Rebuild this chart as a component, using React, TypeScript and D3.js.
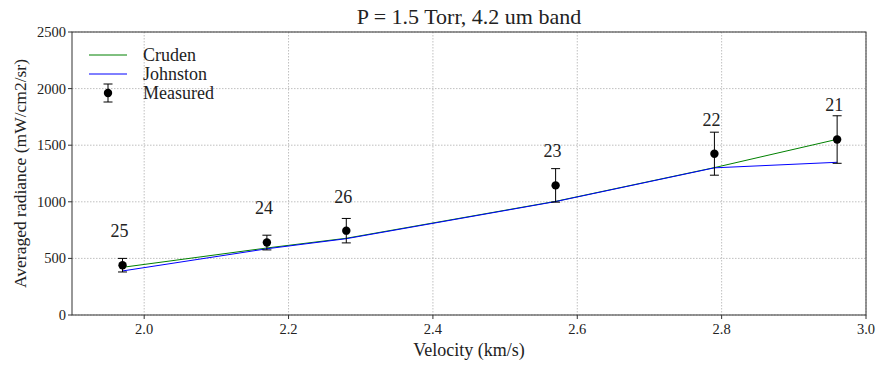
import React from "react";
import * as d3 from "d3";

// Measured shots and model predictions
const velocity = [1.97, 2.17, 2.28, 2.57, 2.79, 2.96];
const measured = [440, 640, 745, 1145, 1425, 1550];
const measuredErr = [60, 65, 108, 148, 190, 210];
const cruden = [421, 592, 678, 1004, 1302, 1552];
const johnston = [389, 585, 674, 1002, 1300, 1349];
const shotLabels = ["25", "24", "26", "23", "22", "21"];

const xTicks = [2.0, 2.2, 2.4, 2.6, 2.8, 3.0];
const yTicks = [0, 500, 1000, 1500, 2000, 2500];

const W = 880;
const H = 366;
const M = { left: 72, right: 866, top: 32, bottom: 315 };
const FONT = "Liberation Serif, Times New Roman, DejaVu Serif, serif";

export default function App() {
  const x = d3.scaleLinear().domain([1.9, 3.0]).range([M.left, M.right]);
  const y = d3.scaleLinear().domain([0, 2500]).range([M.bottom, M.top]);

  const line = d3
    .line<number>()
    .x((_, i) => x(velocity[i]))
    .y((d) => y(d));

  const cap = 4.5;
  const gridStyle = { stroke: "#b0b0b0", strokeWidth: 0.8, strokeDasharray: "1.5,1.5" };
  const txt = { fontFamily: FONT };

  return (
    <svg
      width={W}
      height={H}
      style={{ position: "absolute", left: 0, top: 0, background: "#fff", fontFamily: FONT }}
    >
      <rect x={0} y={0} width={W} height={H} fill="#fff" />
      {/* grid */}
      {xTicks.map((t) => (
        <line key={"gx" + t} x1={x(t)} x2={x(t)} y1={M.top} y2={M.bottom} {...gridStyle} />
      ))}
      {yTicks.map((t) => (
        <line key={"gy" + t} x1={M.left} x2={M.right} y1={y(t)} y2={y(t)} {...gridStyle} />
      ))}

      {/* model curves */}
      <path d={line(cruden) ?? ""} fill="none" stroke="#008000" strokeWidth={1} />
      <path d={line(johnston) ?? ""} fill="none" stroke="#0000ff" strokeWidth={1} />

      {/* measurements with error bars */}
      {velocity.map((v, i) => {
        const cx = x(v);
        const top = y(measured[i] + measuredErr[i]);
        const bot = y(measured[i] - measuredErr[i]);
        return (
          <g key={"m" + i}>
            <line x1={cx} x2={cx} y1={top} y2={bot} stroke="#000" strokeWidth={1} />
            <line x1={cx - cap} x2={cx + cap} y1={top} y2={top} stroke="#000" strokeWidth={1} />
            <line x1={cx - cap} x2={cx + cap} y1={bot} y2={bot} stroke="#000" strokeWidth={1} />
            <circle cx={cx} cy={y(measured[i])} r={4.2} fill="#000" />
            <text
              x={cx - 3}
              y={y(measured[i] + 248)}
              textAnchor="middle"
              fontSize={18}
              fill="#222"
              style={txt}
            >
              {shotLabels[i]}
            </text>
          </g>
        );
      })}

      {/* frame */}
      <rect
        x={M.left}
        y={M.top}
        width={M.right - M.left}
        height={M.bottom - M.top}
        fill="none"
        stroke="#333"
        strokeWidth={1}
      />

      {/* x axis */}
      {xTicks.map((t) => (
        <g key={"xt" + t}>
          <line x1={x(t)} x2={x(t)} y1={M.bottom} y2={M.bottom + 4} stroke="#333" />
          <text x={x(t)} y={M.bottom + 19} textAnchor="middle" fontSize={14.5} fill="#222" style={txt}>
            {d3.format(".1f")(t)}
          </text>
        </g>
      ))}
      <text x={(M.left + M.right) / 2} y={356} textAnchor="middle" fontSize={18} fill="#222" style={txt}>
        Velocity (km/s)
      </text>

      {/* y axis */}
      {yTicks.map((t) => (
        <g key={"yt" + t}>
          <line x1={M.left - 4} x2={M.left} y1={y(t)} y2={y(t)} stroke="#333" />
          <text x={M.left - 6} y={y(t) + 5} textAnchor="end" fontSize={14.5} fill="#222" style={txt}>
            {t}
          </text>
        </g>
      ))}
      <text
        transform={`translate(26,${(M.top + M.bottom) / 2}) rotate(-90)`}
        textAnchor="middle"
        fontSize={17.5}
        fill="#222"
        style={txt}
      >
        Averaged radiance (mW/cm2/sr)
      </text>

      {/* title */}
      <text x={(M.left + M.right) / 2} y={24} textAnchor="middle" fontSize={22} fill="#222" style={txt}>
        P = 1.5 Torr, 4.2 um band
      </text>

      {/* legend */}
      <g fontSize={18} fill="#222" style={txt}>
        <line x1={89} x2={127} y1={55} y2={55} stroke="#008000" strokeWidth={1} />
        <text x={143} y={61}>Cruden</text>
        <line x1={89} x2={127} y1={74} y2={74} stroke="#0000ff" strokeWidth={1} />
        <text x={143} y={80}>Johnston</text>
        <line x1={108} x2={108} y1={84} y2={102} stroke="#000" />
        <line x1={108 - cap} x2={108 + cap} y1={84} y2={84} stroke="#000" />
        <line x1={108 - cap} x2={108 + cap} y1={102} y2={102} stroke="#000" />
        <circle cx={108} cy={93} r={4.2} fill="#000" />
        <text x={143} y={99}>Measured</text>
      </g>
    </svg>
  );
}
